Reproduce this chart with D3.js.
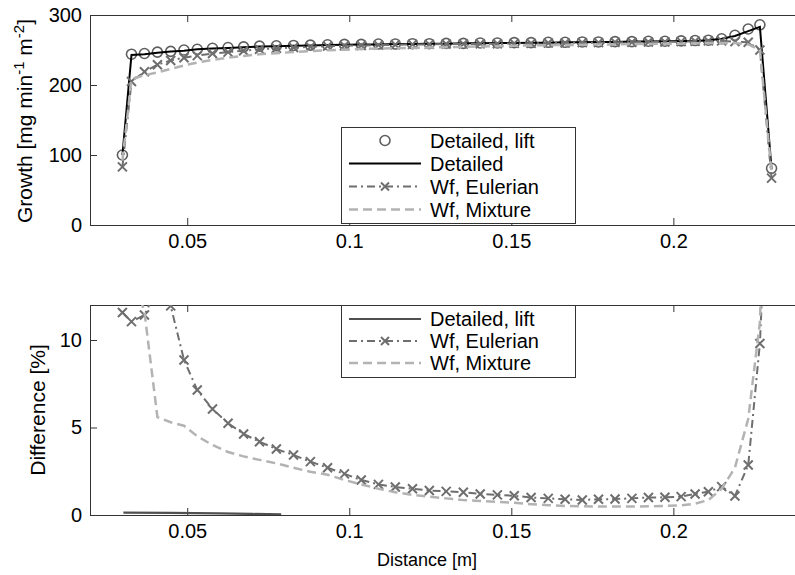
<!DOCTYPE html>
<html><head><meta charset="utf-8">
<script src="https://cdn.jsdelivr.net/npm/d3@7"></script>
<style>
body{margin:0;background:#fff;}
text{font-family:"Liberation Sans",Arial,sans-serif;}
</style></head>
<body><svg id="c" width="795" height="575"></svg>
<script>
// ---- data ----
const xGrid = [0.0300,0.0328,0.0368,0.0408,0.0449,0.0490,0.0531,0.0578,0.0626,0.0674,0.0723,0.0775,0.0828,0.0880,0.0933,0.0985,0.1037,0.1090,0.1142,0.1195,0.1247,0.1299,0.1352,0.1404,0.1457,0.1509,0.1561,0.1614,0.1666,0.1719,0.1769,0.1820,0.1872,0.1923,0.1974,0.2024,0.2067,0.2108,0.2149,0.2190,0.2231,0.2267,0.2303];
const growthDetailedLift = [100,244,245,247,248,250,251,252.5,253.5,254.5,255.5,256,256.5,257,257.5,258,258,258.5,258.5,259,259,259.5,259.5,260,260,260.5,260.5,261,261,261.5,261.5,262,262,262.5,262.5,263,263.5,264,266,271,280,286,81];
const growthDetailed = [100,243,244,246,248,249,251,252,253,254,255,255.5,256,256.5,257,257.5,258,258,258.5,258.5,259,259,259.5,259.5,260,260,260.5,260.5,261,261,261.5,261.5,262,262,262.5,263,263,264,266,270,277,283,80];
const growthEulerian = [83,205,219,229,235,239,242,245,247,249,251,252.5,253.5,254.5,255.5,256,256.5,257,257.5,258,258,258.5,258.5,259,259,259.5,259.5,260,260,260.5,260.5,261,261,261.5,261.5,262,262.5,263,263,262,261,250,67];
const growthMixture = [92,208,214,218,223,228,232,236,239,241.5,244,245.5,247,248.5,249.5,250.5,251.5,252,252.5,253,253.5,254,254.5,255,255.5,256,256.5,257,257,257.5,258,258,258.5,258.5,259,259,259.5,260,260,260,258,250,75];
const diffLiftX = [0.0303,0.0450,0.0600,0.0700,0.0790];
const diffLift = [0.13,0.12,0.09,0.06,0.04];
const diffEulerian = [11.57,11.05,11.43,13,11.95,8.86,7.14,6.06,5.24,4.63,4.19,3.77,3.43,3.05,2.7,2.35,2.0,1.75,1.6,1.5,1.4,1.35,1.3,1.2,1.15,1.1,1.0,0.95,0.9,0.86,0.9,0.91,0.95,1.0,1.01,1.05,1.2,1.33,1.62,1.09,2.86,9.8,25];
const diffMixture = [17,14,11.6,5.6,5.3,5.1,4.5,4.0,3.6,3.35,3.15,2.95,2.7,2.47,2.3,2.0,1.75,1.5,1.3,1.15,1.05,0.95,0.85,0.8,0.75,0.7,0.62,0.56,0.52,0.5,0.48,0.48,0.48,0.5,0.52,0.55,0.65,0.85,1.5,2.7,5.5,11,30];
const xTicks = [0.05,0.1,0.15,0.2];
const xTickLabels = ["0.05","0.1","0.15","0.2"];
const growthTicks = [0,100,200,300];
const diffTicks = [0,5,10];
const topLegend = ["Detailed, lift","Detailed","Wf, Eulerian","Wf, Mixture"];
const botLegend = ["Detailed, lift","Wf, Eulerian","Wf, Mixture"];

// ---- styles ----
const C_LIFT = "#5f5f5f", C_DET = "#000", C_EUL = "#6e6e6e", C_MIX = "#b3b3b3", C_LIFTD = "#505050";
const DASH_EUL = "8,4,2,4", DASH_MIX = "9,5";
const FS = 20;

const svg = d3.select("#c");
const L = 90, R = 803;
const x = d3.scaleLinear().domain([0.02,0.24]).range([L,R]);

function panel(top, bottom, yDomain, yTicks, id){
  const y = d3.scaleLinear().domain(yDomain).range([bottom, top]);
  const g = svg.append("g");
  svg.append("clipPath").attr("id",id).append("rect")
    .attr("x",L).attr("y",top).attr("width",R-L).attr("height",bottom-top);
  g.append("g").attr("transform",`translate(0,${bottom})`)
    .call(d3.axisBottom(x).tickValues(xTicks).tickFormat((d,i)=>xTickLabels[i]).tickSizeInner(-7).tickSizeOuter(0).tickPadding(9));
  g.append("g").attr("transform",`translate(0,${top})`)
    .call(d3.axisTop(x).tickValues(xTicks).tickFormat("").tickSizeInner(-7).tickSizeOuter(0));
  g.append("g").attr("transform",`translate(${L},0)`)
    .call(d3.axisLeft(y).tickValues(yTicks).tickFormat(d3.format("d")).tickSizeInner(-7).tickSizeOuter(0).tickPadding(8));
  g.selectAll(".domain").remove();
  g.selectAll(".tick line").attr("stroke","#333");
  g.selectAll(".tick text").attr("font-size",FS).attr("font-family",'"Liberation Sans",Arial,sans-serif').attr("fill","#000");
  g.append("rect").attr("x",L+0.5).attr("y",top+0.5).attr("width",R-L).attr("height",bottom-top)
    .attr("fill","none").attr("stroke","#333").attr("stroke-width",1);
  const plot = svg.append("g").attr("clip-path",`url(#${id})`);
  return {y, plot};
}

function xMark(sel, cx, cy, s, color){
  sel.append("path").attr("d",`M${cx-s},${cy-s}L${cx+s},${cy+s}M${cx-s},${cy+s}L${cx+s},${cy-s}`)
    .attr("stroke",color).attr("stroke-width",2).attr("fill","none");
}

// ---- top panel ----
const T = panel(15, 225, [0,300], growthTicks, "clipTop");
const lineT = d3.line().x((d,i)=>x(xGrid[i])).y(d=>T.y(d));
T.plot.selectAll("circle.lift").data(growthDetailedLift).join("circle")
  .attr("cx",(d,i)=>x(xGrid[i])).attr("cy",d=>T.y(d)).attr("r",5)
  .attr("fill","none").attr("stroke",C_LIFT).attr("stroke-width",1.6);
T.plot.append("path").datum(growthDetailed).attr("d",lineT)
  .attr("fill","none").attr("stroke",C_DET).attr("stroke-width",2);
T.plot.append("path").datum(growthEulerian).attr("d",lineT)
  .attr("fill","none").attr("stroke",C_EUL).attr("stroke-width",2).attr("stroke-dasharray",DASH_EUL);
growthEulerian.forEach((d,i)=>xMark(T.plot, x(xGrid[i]), T.y(d), 4.5, C_EUL));
T.plot.append("path").datum(growthMixture).attr("d",lineT)
  .attr("fill","none").attr("stroke",C_MIX).attr("stroke-width",2.5).attr("stroke-dasharray",DASH_MIX);

// ---- bottom panel ----
const B = panel(305, 515, [0,12], diffTicks, "clipBot");
const lineB = d3.line().x((d,i)=>x(xGrid[i])).y(d=>B.y(d));
B.plot.append("path").datum(diffLift).attr("d",d3.line().x((d,i)=>x(diffLiftX[i])).y(d=>B.y(d)))
  .attr("fill","none").attr("stroke",C_LIFTD).attr("stroke-width",2.2);
B.plot.append("path").datum(diffEulerian).attr("d",lineB)
  .attr("fill","none").attr("stroke",C_EUL).attr("stroke-width",2).attr("stroke-dasharray",DASH_EUL);
diffEulerian.forEach((d,i)=>{ if(d<=12.05) xMark(B.plot, x(xGrid[i]), B.y(d), 4.5, C_EUL); });
B.plot.append("path").datum(diffMixture).attr("d",lineB)
  .attr("fill","none").attr("stroke",C_MIX).attr("stroke-width",2.5).attr("stroke-dasharray",DASH_MIX);

// ---- legends ----
function legend(x0, y0, w, rowH, pad, rows, entries){
  const h = rowH*entries.length + 2*pad;
  const g = svg.append("g");
  g.append("rect").attr("x",x0+0.5).attr("y",y0+0.5).attr("width",w).attr("height",h)
    .attr("fill","#fff").attr("stroke","#333").attr("stroke-width",1);
  entries.forEach((lab,i)=>{
    const cy = y0 + pad + rowH/2 + i*rowH;
    const kind = rows[i];
    const x1 = x0+8, x2 = x0+80, xm = (x1+x2)/2;
    if(kind==="circle"){
      g.append("circle").attr("cx",xm).attr("cy",cy).attr("r",5).attr("fill","none").attr("stroke",C_LIFT).attr("stroke-width",1.6);
    } else if(kind==="solid"){
      g.append("line").attr("x1",x1).attr("x2",x2).attr("y1",cy).attr("y2",cy).attr("stroke",C_DET).attr("stroke-width",2);
    } else if(kind==="solidGray"){
      g.append("line").attr("x1",x1).attr("x2",x2).attr("y1",cy).attr("y2",cy).attr("stroke",C_LIFTD).attr("stroke-width",2.2);
    } else if(kind==="eul"){
      g.append("line").attr("x1",x1).attr("x2",x2).attr("y1",cy).attr("y2",cy).attr("stroke",C_EUL).attr("stroke-width",2).attr("stroke-dasharray",DASH_EUL);
      xMark(g, xm, cy, 4, C_EUL);
    } else {
      g.append("line").attr("x1",x1).attr("x2",x2).attr("y1",cy).attr("y2",cy).attr("stroke",C_MIX).attr("stroke-width",2.5).attr("stroke-dasharray",DASH_MIX);
    }
    g.append("text").attr("x",x0+89).attr("y",cy).attr("dy","0.36em").attr("font-size",FS).attr("fill","#000").text(lab);
  });
}
legend(341, 127, 234, 23, 2, ["circle","solid","eul","mix"], topLegend);
legend(341, 305, 234, 22, 3, ["solidGray","eul","mix"], botLegend);

// ---- axis labels ----
const gl = svg.append("text").attr("transform","translate(32,121) rotate(-90)").attr("text-anchor","middle").attr("font-size",21).attr("fill","#000");
gl.append("tspan").text("Growth [mg min");
gl.append("tspan").attr("dy",-8).attr("font-size",15).text("-1");
gl.append("tspan").attr("dy",8).text(" m");
gl.append("tspan").attr("dy",-8).attr("font-size",15).text("-2");
gl.append("tspan").attr("dy",8).text("]");
svg.append("text").attr("transform","translate(45,410) rotate(-90)").attr("text-anchor","middle").attr("font-size",21).attr("fill","#000").text("Difference [%]");
svg.append("text").attr("x",427).attr("y",566).attr("text-anchor","middle").attr("font-size",18).attr("fill","#000").text("Distance [m]");
</script></body></html>
